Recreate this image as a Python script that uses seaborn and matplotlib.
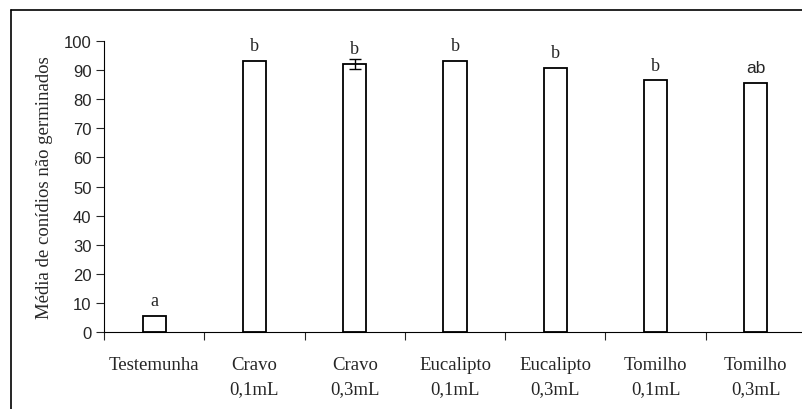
import numpy as np
import pandas as pd
import matplotlib
matplotlib.use('Agg')
import matplotlib.pyplot as plt
from matplotlib.lines import Line2D
import seaborn as sns

# --------------------- DATA ---------------------
tratamentos = ['Testemunha', 'Cravo\n0,1mL', 'Cravo\n0,3mL', 'Eucalipto\n0,1mL',
               'Eucalipto\n0,3mL', 'Tomilho\n0,1mL', 'Tomilho\n0,3mL']
medias = [5.6, 93.2, 92.2, 93.2, 90.7, 86.5, 85.5]
erros = [0, 0, 1.7, 0, 0, 0, 0]
letras = ['a', 'b', 'b', 'b', 'b', 'b', 'ab']

df = pd.DataFrame({'trat': tratamentos, 'media': medias})

# --------------------- FIGURE ---------------------
sns.set_style('ticks')
serif = ['Liberation Serif', 'DejaVu Serif']
sans = ['Liberation Sans', 'DejaVu Sans']

fig = plt.figure(figsize=(8.03, 4.10), dpi=100)
ax = fig.add_axes([104 / 803, 77 / 410, 702 / 803, 291 / 410])

sns.barplot(data=df, x='trat', y='media', ax=ax, color='white',
            edgecolor='black', linewidth=1.3, width=0.23, errorbar=None)

# error bar (only one treatment has it)
pos = ax.get_xticks()
idx = [i for i, e in enumerate(erros) if e > 0]
ax.errorbar([pos[i] for i in idx], [medias[i] for i in idx],
            yerr=[erros[i] for i in idx], fmt='none', ecolor='black',
            elinewidth=1.0, capsize=4, capthick=1.0)

# letters above bars
for i, (m, l) in enumerate(zip(medias, letras)):
    fam = sans if l == 'ab' else serif
    size = 12.5 if l == 'ab' else 13
    ax.annotate(l, (pos[i], m), xytext=(0, 11), textcoords='offset points',
                ha='center', va='center', fontsize=size, family=fam)

# --------------------- AXES ---------------------
ax.set_ylim(0, 100)
ax.set_xlim(-0.5, len(tratamentos) - 0.5)
ax.set_yticks(range(0, 101, 10))
ax.tick_params(axis='y', length=6, width=0.8, labelsize=12, pad=3)
for t in ax.get_yticklabels():
    t.set_family(sans)

ax.set_xticks(np.arange(-0.5, len(tratamentos), 1), minor=True)
ax.tick_params(axis='x', which='major', length=0, pad=17)
ax.tick_params(axis='x', which='minor', length=6, width=0.8, direction='out')
for t in ax.get_xticklabels():
    t.set_family(serif)
    t.set_fontsize(13.5)
    t.set_linespacing(1.55)

ax.set_xlabel('')
ax.set_ylabel('Média de conídios não germinados', family=serif,
              fontsize=13.5, labelpad=8)

sns.despine(ax=ax, top=True, right=True)
for s in ['left', 'bottom']:
    ax.spines[s].set_linewidth(0.8)
    ax.spines[s].set_color('black')

# outer frame (only left and top edges visible)
fig.add_artist(Line2D([11 / 803, 11 / 803], [0, 1 - 11 / 410], color='black',
                      lw=1.2, transform=fig.transFigure))
fig.add_artist(Line2D([11 / 803, 1], [1 - 11 / 410, 1 - 11 / 410], color='black',
                      lw=1.2, transform=fig.transFigure))

fig.savefig('out.png', dpi=100)
plt.close()
